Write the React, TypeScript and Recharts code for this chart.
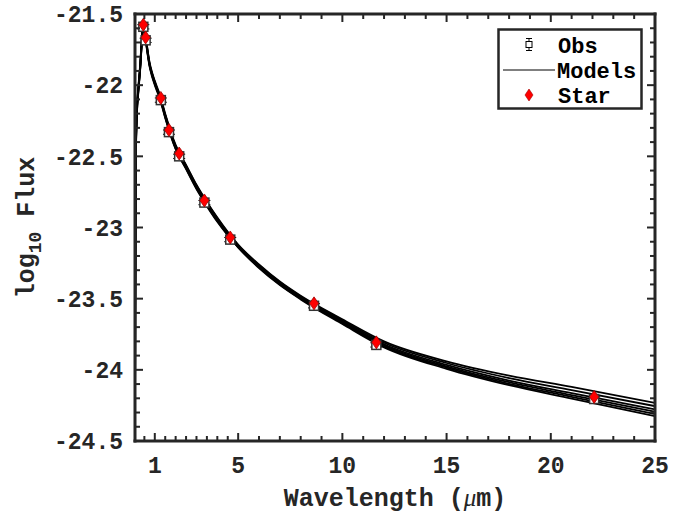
import React from "react";
import { ComposedChart, Line, Scatter, XAxis, YAxis, ErrorBar } from "recharts";

// model grid (micron) and model fluxes
const wavelengths = [0.05, 0.06, 0.08, 0.1, 0.15, 0.2, 0.25, 0.3, 0.35, 0.4, 0.45, 0.5, 0.55, 0.65, 0.75, 0.85, 1.0, 1.25, 1.5, 2, 2.5, 3, 3.5, 4, 5, 6, 7, 8, 10, 12, 15, 18, 21, 25];
const model1 = [-24.6, -23.55, -22.66, -22.37, -22.13, -22.03, -21.94, -21.85, -21.73, -21.62, -21.56, -21.59, -21.64, -21.75, -21.84, -21.9, -21.97, -22.07, -22.2, -22.42, -22.56, -22.7, -22.82, -22.93, -23.12, -23.26, -23.38, -23.48, -23.645, -23.8, -23.94, -24.04, -24.12, -24.232];
const model2 = [-24.6, -23.58, -22.68, -22.39, -22.14, -22.04, -21.95, -21.86, -21.74, -21.63, -21.57, -21.6, -21.65, -21.75, -21.85, -21.91, -21.98, -22.08, -22.21, -22.43, -22.565, -22.705, -22.825, -22.935, -23.125, -23.265, -23.385, -23.485, -23.652, -23.81, -23.952, -24.058, -24.142, -24.255];
const model3 = [-24.6, -23.6, -22.7, -22.4, -22.15, -22.05, -21.96, -21.87, -21.75, -21.63, -21.57, -21.6, -21.65, -21.76, -21.85, -21.91, -21.98, -22.08, -22.21, -22.43, -22.57, -22.71, -22.83, -22.94, -23.13, -23.27, -23.39, -23.49, -23.66, -23.82, -23.965, -24.075, -24.163, -24.278];
const model4 = [-24.6, -23.62, -22.72, -22.41, -22.16, -22.06, -21.97, -21.88, -21.76, -21.64, -21.58, -21.61, -21.66, -21.77, -21.86, -21.92, -21.99, -22.09, -22.22, -22.44, -22.58, -22.72, -22.84, -22.95, -23.135, -23.275, -23.395, -23.495, -23.665, -23.827, -23.975, -24.087, -24.178, -24.295];
const model5 = [-24.6, -23.64, -22.74, -22.42, -22.17, -22.06, -21.97, -21.88, -21.76, -21.64, -21.58, -21.61, -21.66, -21.77, -21.86, -21.92, -21.99, -22.09, -22.225, -22.445, -22.585, -22.725, -22.845, -22.955, -23.14, -23.28, -23.4, -23.5, -23.672, -23.835, -23.984, -24.098, -24.19, -24.31];
const model6 = [-24.6, -23.66, -22.76, -22.43, -22.18, -22.07, -21.98, -21.89, -21.77, -21.65, -21.59, -21.62, -21.67, -21.78, -21.87, -21.93, -22.0, -22.1, -22.23, -22.45, -22.59, -22.73, -22.85, -22.96, -23.14, -23.285, -23.405, -23.505, -23.678, -23.842, -23.993, -24.108, -24.202, -24.325];

// photometry
const obsWave = [0.45, 0.56, 1.29, 1.68, 2.17, 3.38, 4.62, 8.64, 11.63, 22.08];
const obsFlux = [-21.59, -21.685, -22.105, -22.33, -22.5, -22.825, -23.085, -23.55, -23.825, -24.205];
const obsErr = [0.015, 0.015, 0.015, 0.015, 0.015, 0.015, 0.015, 0.015, 0.015, 0.015];
const starFlux = [-21.575, -21.665, -22.09, -22.315, -22.48, -22.81, -23.07, -23.533, -23.807, -24.19];

const xTicks = [0.5, 1, 1.5, 2, 2.5, 3, 3.5, 4, 4.5, 5, 6, 7, 8, 9, 10, 11, 12, 13, 14, 15, 16, 17, 18, 19, 20, 21, 22, 23, 24, 25];
const xMajor = [1, 5, 10, 15, 20, 25];
const yTicks = [-24.5, -24.4, -24.3, -24.2, -24.1, -24, -23.9, -23.8, -23.7, -23.6, -23.5, -23.4, -23.3, -23.2, -23.1, -23, -22.9, -22.8, -22.7, -22.6, -22.5, -22.4, -22.3, -22.2, -22.1, -22, -21.9, -21.8, -21.7, -21.6, -21.5];
const yMajor = [-24.5, -24, -23.5, -23, -22.5, -22, -21.5];

const models = [model1, model2, model3, model4, model5, model6];
const modelData = wavelengths.map((w, i) => {
  const row: Record<string, number> = { w };
  models.forEach((m, k) => (row["m" + k] = m[i]));
  return row;
});
const obsData = obsWave.map((w, i) => ({ w, f: obsFlux[i], err: obsErr[i] }));
const starData = obsWave.map((w, i) => ({ w, f: starFlux[i] }));

const INK = "#262626";
const FONT = "'Liberation Mono', 'Courier New', monospace";

const isMajor = (list: number[], v: number) => list.some((m) => Math.abs(m - v) < 1e-6);

const BottomTick = ({ x, y, payload }: any) => {
  const major = isMajor(xMajor, payload.value);
  return (
    <g>
      <line x1={x} x2={x} y1={y} y2={y - (major ? 8 : 5)} stroke={INK} strokeWidth={2} />
      {major && (
        <text x={x} y={y + 32} textAnchor="middle" fontFamily={FONT} fontWeight="bold" fontSize={23} fill={INK}>
          {payload.value}
        </text>
      )}
    </g>
  );
};

const TopTick = ({ x, y, payload }: any) => {
  const major = isMajor(xMajor, payload.value);
  return <line x1={x} x2={x} y1={y} y2={y + (major ? 8 : 5)} stroke={INK} strokeWidth={2} />;
};

const LeftTick = ({ x, y, payload }: any) => {
  const major = isMajor(yMajor, payload.value);
  return (
    <g>
      <line x1={x} x2={x + (major ? 8 : 5)} y1={y} y2={y} stroke={INK} strokeWidth={2} />
      {major && (
        <text x={x - 12} y={y} dy="0.36em" textAnchor="end" fontFamily={FONT} fontWeight="bold" fontSize={23} fill={INK}>
          {String(payload.value)}
        </text>
      )}
    </g>
  );
};

const RightTick = ({ x, y, payload }: any) => {
  const major = isMajor(yMajor, payload.value);
  return <line x1={x} x2={x - (major ? 8 : 5)} y1={y} y2={y} stroke={INK} strokeWidth={2} />;
};

const Square = ({ cx, cy }: any) => (
  <rect x={cx - 4.5} y={cy - 4.5} width={9} height={9} fill="#fff" stroke="#333" strokeWidth={1.5} />
);

const Diamond = ({ cx, cy }: any) => (
  <polygon
    points={`${cx},${cy - 6.5} ${cx + 4.5},${cy} ${cx},${cy + 6.5} ${cx - 4.5},${cy}`}
    fill="#ff0000"
    stroke="#a00000"
    strokeWidth={0.8}
  />
);

const XLabel = ({ viewBox }: any) => (
  <text x={viewBox.x + viewBox.width / 2} y={viewBox.y + 65} textAnchor="middle" fontFamily={FONT} fontWeight="bold" fontSize={25} fill={INK}>
    <tspan>Wavelength (</tspan>
    <tspan fontFamily="'Liberation Serif', serif" fontStyle="italic" fontWeight="normal">μ</tspan>
    <tspan>m)</tspan>
  </text>
);

const YLabel = ({ viewBox }: any) => {
  const cx = viewBox.x + 34;
  const cy = viewBox.y + viewBox.height / 2;
  return (
    <text x={cx} y={cy} transform={`rotate(-90 ${cx} ${cy})`} textAnchor="middle" fontFamily={FONT} fontWeight="bold" fontSize={25} fill={INK}>
      log
      <tspan fontSize={18} dy={7}>10</tspan>
      <tspan dy={-7}> Flux</tspan>
    </text>
  );
};

const LegendBox = () => (
  <svg width={146} height={82} style={{ position: "absolute", left: 497, top: 28 }}>
    <rect x={1.5} y={1.5} width={143} height={79} fill="#fff" stroke={INK} strokeWidth={2.5} />
    {/* Obs */}
    <line x1={32} x2={32} y1={10} y2={23} stroke="#000" strokeWidth={1} />
    <line x1={29} x2={35} y1={10.5} y2={10.5} stroke="#000" strokeWidth={1} />
    <line x1={29} x2={35} y1={22.5} y2={22.5} stroke="#000" strokeWidth={1} />
    <rect x={29} y={13.5} width={6} height={6} fill="#fff" stroke="#000" strokeWidth={1} />
    <text x={61} y={17} dy="0.36em" fontFamily={FONT} fontWeight="bold" fontSize={22} fill="#000">Obs</text>
    {/* Models */}
    <line x1={6} x2={58} y1={42} y2={42} stroke="#000" strokeWidth={1} />
    <text x={60} y={42} dy="0.36em" fontFamily={FONT} fontWeight="bold" fontSize={22} fill="#000">Models</text>
    {/* Star */}
    <polygon points="32,61 36,67 32,73 28,67" fill="#ff0000" stroke="#a00000" strokeWidth={0.6} />
    <text x={61} y={67} dy="0.36em" fontFamily={FONT} fontWeight="bold" fontSize={22} fill="#000">Star</text>
  </svg>
);

export default function App() {
  return (
    <div style={{ position: "absolute", left: 0, top: 0, width: 696, height: 514, background: "#fff" }}>
      <ComposedChart width={696} height={514} data={modelData} margin={{ top: 0, right: 0, bottom: 0, left: 0 }}>
        <XAxis
          dataKey="w"
          type="number"
          domain={[0.05, 25]}
          allowDataOverflow
          ticks={xTicks}
          interval={0}
          height={73}
          tickSize={0}
          tickMargin={0}
          tickLine={false}
          tick={<BottomTick />}
          axisLine={{ stroke: INK, strokeWidth: 3, strokeLinecap: "square" }}
          label={<XLabelWrap />}
        />
        <XAxis
          xAxisId="top"
          orientation="top"
          dataKey="w"
          type="number"
          domain={[0.05, 25]}
          allowDataOverflow
          ticks={xTicks}
          interval={0}
          height={14}
          tickSize={0}
          tickMargin={0}
          tickLine={false}
          tick={<TopTick />}
          axisLine={{ stroke: INK, strokeWidth: 3, strokeLinecap: "square" }}
        />
        <YAxis
          type="number"
          domain={[-24.5, -21.5]}
          allowDataOverflow
          ticks={yTicks}
          interval={0}
          width={135}
          tickSize={0}
          tickMargin={0}
          tickLine={false}
          tick={<LeftTick />}
          axisLine={{ stroke: INK, strokeWidth: 3, strokeLinecap: "square" }}
          label={<YLabelWrap />}
        />
        <YAxis
          yAxisId="r"
          orientation="right"
          type="number"
          domain={[-24.5, -21.5]}
          allowDataOverflow
          ticks={yTicks}
          interval={0}
          width={41}
          tickSize={0}
          tickMargin={0}
          tickLine={false}
          tick={<RightTick />}
          axisLine={{ stroke: INK, strokeWidth: 3, strokeLinecap: "square" }}
        />
        {models.map((_, k) => (
          <Line
            key={k}
            dataKey={"m" + k}
            type="monotone"
            stroke="#000"
            strokeWidth={1.8}
            dot={false}
            activeDot={false}
            isAnimationActive={false}
          />
        ))}
        <Scatter data={obsData} dataKey="f" shape={<Square />} isAnimationActive={false}>
          <ErrorBar dataKey="err" direction="y" width={6} stroke="#000" strokeWidth={1} />
        </Scatter>
        <Scatter data={starData} dataKey="f" shape={<Diamond />} isAnimationActive={false} />
      </ComposedChart>
      <LegendBox />
    </div>
  );
}

function XLabelWrap(props: any) {
  return <XLabel {...props} />;
}

function YLabelWrap(props: any) {
  return <YLabel {...props} />;
}
